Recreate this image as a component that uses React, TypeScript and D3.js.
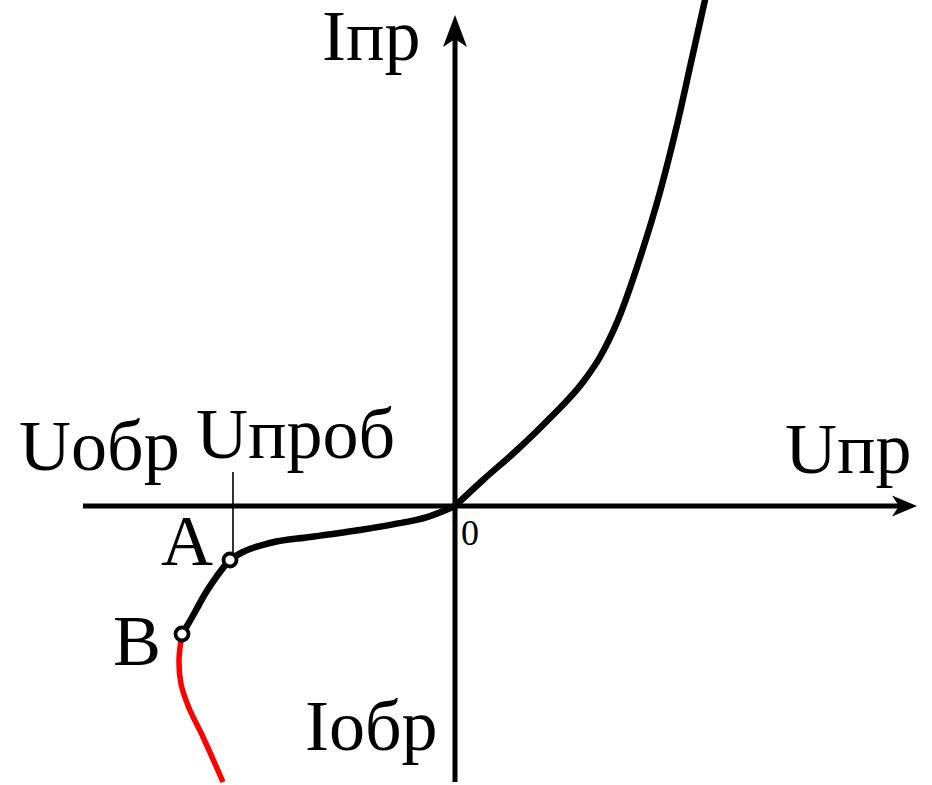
import React from "react";
import * as d3 from "d3";

// Diode I–V characteristic (arbitrary units: U horizontal, I vertical)
const forwardU = [0, 0.7, 1.55, 2.375, 3.2, 3.625, 4.075, 4.625, 5.125, 5.55, 5.925, 6.25];
const forwardI = [0, 0.65, 1.4, 2.2, 3.1, 3.725, 4.65, 6.2, 7.85, 9.525, 11.2, 12.65];

const reverseU = [0, -0.7, -1.55, -2.375, -3.625, -4.625, -5.3, -5.625, -5.95, -6.25, -6.5, -6.7, -6.825];
const reverseI = [0, -0.28, -0.46, -0.6, -0.775, -0.925, -1.15, -1.35, -1.75, -2.2, -2.65, -3.0, -3.2];

const breakdownU = [-6.825, -6.9, -6.85, -6.65, -6.3, -5.8];
const breakdownI = [-3.2, -3.85, -4.45, -5.05, -5.775, -6.9];

const pointNames = ["A", "B"];
const pointU = [-5.625, -6.825];
const pointI = [-1.35, -3.2];

const uProbU = -5.55;
const uProbTopI = 0.85;

const xDomain = [-9.3, 11.55];
const yDomain = [-6.9, 12.275];

const W = 932;
const H = 785;

export default function App() {
  const x = d3.scaleLinear().domain(xDomain).range([83, 917]);
  const y = d3.scaleLinear().domain(yDomain).range([782, 15]);

  const zip = (a: number[], b: number[]) => a.map((v, i) => [v, b[i]] as [number, number]);

  const lineX = d3
    .line<[number, number]>()
    .x((d) => x(d[0]))
    .y((d) => y(d[1]))
    .curve(d3.curveMonotoneX);
  const lineC = d3
    .line<[number, number]>()
    .x((d) => x(d[0]))
    .y((d) => y(d[1]))
    .curve(d3.curveCatmullRom.alpha(0.5));

  const forwardPts = zip(forwardU, forwardI);
  const reversePts = zip(reverseU, reverseI).slice().reverse(); // ascending U
  const breakdownPts = zip(breakdownU, breakdownI);

  const x0 = x(0);
  const y0 = y(0);
  const xEnd = x(xDomain[1]);
  const yTop = y(yDomain[1]);

  const font = "'Liberation Serif', 'Times New Roman', serif";

  return (
    <svg
      width={W}
      height={H}
      style={{ position: "absolute", left: 0, top: 0, background: "#fff" }}
      fontFamily={font}
    >
      {/* axes */}
      <line x1={x(xDomain[0])} y1={y0} x2={xEnd - 16} y2={y0} stroke="#000" strokeWidth={5} />
      <path
        d={`M${xEnd},${y0} L${xEnd - 25},${y0 - 10.5} L${xEnd - 18},${y0} L${xEnd - 25},${y0 + 10.5} Z`}
        fill="#000"
      />
      <line x1={x0} y1={y(yDomain[0])} x2={x0} y2={yTop + 22} stroke="#000" strokeWidth={5} />
      <path
        d={`M${x0},${yTop} L${x0 + 12},${yTop + 32} L${x0},${yTop + 24} L${x0 - 12},${yTop + 32} Z`}
        fill="#000"
      />

      {/* curves */}
      <path d={lineX(forwardPts) || ""} fill="none" stroke="#000" strokeWidth={6.5} strokeLinecap="round" />
      <path d={lineX(reversePts) || ""} fill="none" stroke="#000" strokeWidth={6.5} strokeLinecap="round" />
      <path d={lineC(breakdownPts) || ""} fill="none" stroke="#ff0000" strokeWidth={5.5} />

      {/* breakdown marker line */}
      <line x1={x(uProbU)} y1={y(uProbTopI)} x2={x(uProbU)} y2={y(pointI[0]) - 7} stroke="#000" strokeWidth={1.6} />

      {/* points */}
      {pointNames.map((n, i) => (
        <circle key={n} cx={x(pointU[i])} cy={y(pointI[i])} r={6.5} fill="#fff" stroke="#000" strokeWidth={3.8} />
      ))}

      {/* labels */}
      <g fill="#000" fontSize={72}>
        <text x={322} y={60}>Iпр</text>
        <text x={785} y={473}>Uпр</text>
        <text x={19} y={470}>Uобр</text>
        <text x={196} y={458}>Uпроб</text>
        <text x={305} y={750}>Iобр</text>
        <text x={161} y={565}>{pointNames[0]}</text>
        <text x={113} y={665}>{pointNames[1]}</text>
      </g>
      <text x={461} y={545} fontSize={36} fill="#000">0</text>
    </svg>
  );
}
